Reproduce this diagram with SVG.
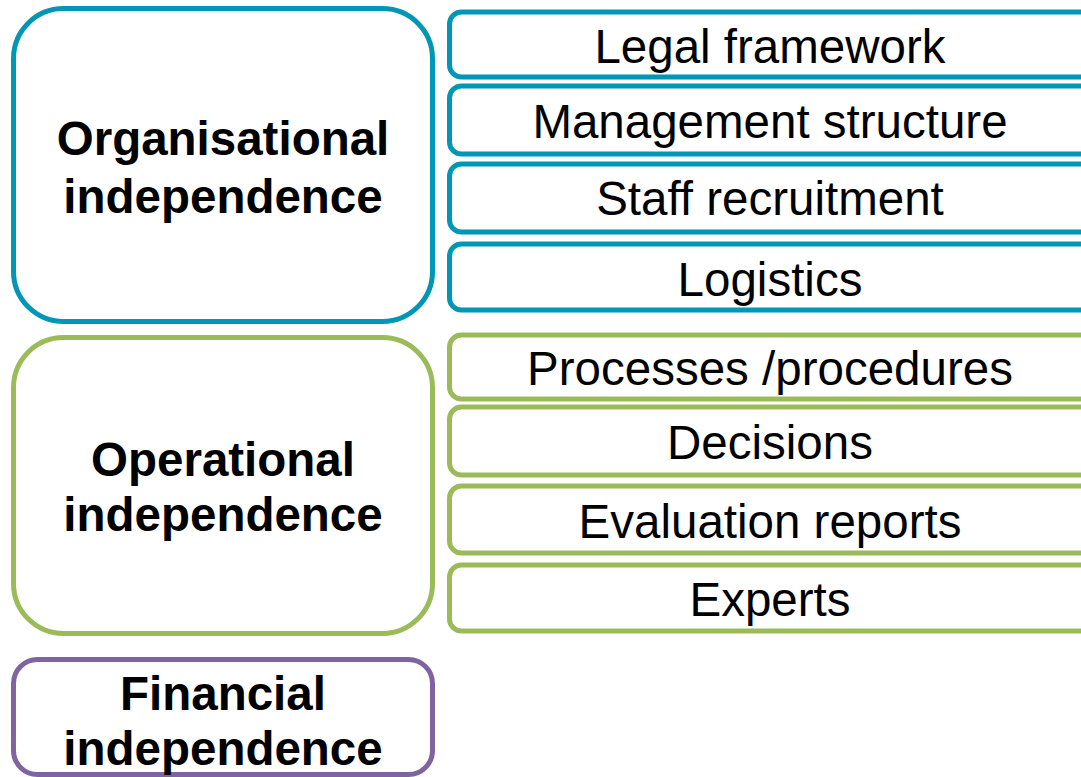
<svg xmlns="http://www.w3.org/2000/svg" width="1081" height="777" viewBox="0 0 1081 777">
<style>
.b{fill:#fff;stroke:#0096B6;stroke-width:5}
.g{fill:#fff;stroke:#9BBB59;stroke-width:5}
.p{fill:#fff;stroke:#8064A2;stroke-width:5}
.h{font-family:"Liberation Sans",Arial,sans-serif;font-weight:bold;font-size:47.5px;text-anchor:middle;fill:#000}
.t{font-family:"Liberation Sans",Arial,sans-serif;font-size:47.5px;text-anchor:middle;fill:#000}
</style>
<rect width="1081" height="777" fill="#fff"/>
<g id="org">
<rect class="b" x="13.5" y="8.5" width="419" height="313" rx="50"/>
<text class="h" x="223" y="155">Organisational</text>
<text class="h" x="223" y="213">independence</text>
</g>
<g id="op">
<rect class="g" x="13.5" y="337.5" width="419" height="296" rx="50"/>
<text class="h" x="223" y="476">Operational</text>
<text class="h" x="223" y="531">independence</text>
</g>
<g id="fin">
<rect class="p" x="13.5" y="659.5" width="419" height="115" rx="24"/>
<text class="h" x="223" y="710">Financial</text>
<text class="h" x="223" y="765">independence</text>
</g>
<g id="legal"><rect class="b" x="449.5" y="12" width="646" height="65" rx="12"/><text class="t" x="770" y="63">Legal framework</text></g>
<g id="mgmt"><rect class="b" x="449.5" y="86" width="646" height="68" rx="12"/><text class="t" x="770" y="138">Management structure</text></g>
<g id="staff"><rect class="b" x="449.5" y="164" width="646" height="68" rx="12"/><text class="t" x="770" y="215">Staff recruitment</text></g>
<g id="logistics"><rect class="b" x="449.5" y="244" width="646" height="66" rx="12"/><text class="t" x="770" y="296">Logistics</text></g>
<g id="proc"><rect class="g" x="449.5" y="335" width="646" height="64" rx="12"/><text class="t" x="770" y="385">Processes /procedures</text></g>
<g id="dec"><rect class="g" x="449.5" y="407" width="646" height="68" rx="12"/><text class="t" x="770" y="459">Decisions</text></g>
<g id="eval"><rect class="g" x="449.5" y="486" width="646" height="67" rx="12"/><text class="t" x="770" y="538">Evaluation reports</text></g>
<g id="experts"><rect class="g" x="449.5" y="565" width="646" height="66" rx="12"/><text class="t" x="770" y="616">Experts</text></g>
<g id="connectors"></g>
</svg>
